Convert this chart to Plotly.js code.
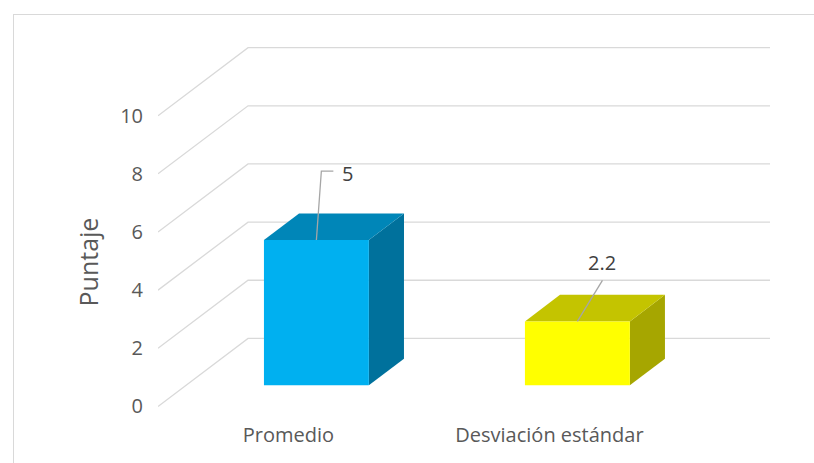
<!DOCTYPE html>
<html>
<head>
<meta charset="utf-8">
<script src="https://cdn.plot.ly/plotly-3.0.1.min.js"></script>
<style>
  html, body { margin: 0; padding: 0; background: #ffffff; }
  #wrap { position: relative; width: 814px; height: 463px; overflow: hidden; }
  #chart { position: absolute; left: 0; top: 0; width: 814px; height: 463px; }
  #frame { position: absolute; left: 13px; top: 14px; width: 820px; height: 470px;
           border-left: 1px solid #d9d9d9; border-top: 1px solid #d9d9d9; pointer-events: none; }
</style>
</head>
<body>
<div id="wrap">
  <div id="chart"></div>
  <div id="frame"></div>
</div>
<script>
// ---- data ----
const categories = ["Promedio", "Desviación estándar"];
const values = [5, 2.2];
const valueLabels = ["5", "2.2"];
const yTickVals = [0, 2, 4, 6, 8, 10];
const yTickText = ["0", "2", "4", "6", "8", "10"];
const yTitle = "Puntaje";

// ---- 3D styling (geometry in axis units) ----
const depthX = 0.345;      // x shift of full floor depth
const depthY = 2.34;       // y shift of full floor depth
const fFront = 0.31;       // bar front depth fraction
const fBack = 0.70;        // bar back depth fraction
const barW = 0.402;        // bar width
const frontColors = ["#00B0F0", "#FFFF00"];
const topColors = ["#0086B8", "#C4C400"];
const sideColors = ["#00719C", "#A6A600"];
const gridColor = "#d9d9d9";
const xMin = -0.5, xMax = categories.length - 0.5;

const traces = [];

// gridlines: diagonal side wall + back wall
const gx = [], gy = [];
yTickVals.forEach(t => {
  gx.push(xMin, xMin + depthX, xMax + depthX, null);
  gy.push(t, t + depthY, t + depthY, null);
});
traces.push({type: "scatter", mode: "lines", x: gx, y: gy, hoverinfo: "skip",
  line: {color: gridColor, width: 1.3}, showlegend: false});

const idx = categories.map((c, i) => i);

// bar faces (side, top, front) computed from the values
idx.forEach(i => {
  const v = values[i];
  const xl = i - barW / 2, xr = i + barW / 2;
  const fx = fFront * depthX, fy = fFront * depthY;
  const bx = fBack * depthX, by = fBack * depthY;
  // side face
  traces.push({type: "scatter", mode: "lines", fill: "toself",
    x: [xr + fx, xr + bx, xr + bx, xr + fx, xr + fx],
    y: [fy, by, v + by, v + fy, fy],
    fillcolor: sideColors[i], line: {width: 0}, hoverinfo: "skip", showlegend: false});
  // top face
  traces.push({type: "scatter", mode: "lines", fill: "toself",
    x: [xl + fx, xr + fx, xr + bx, xl + bx, xl + fx],
    y: [v + fy, v + fy, v + by, v + by, v + fy],
    fillcolor: topColors[i], line: {width: 0}, hoverinfo: "skip", showlegend: false});
  // front face
  traces.push({type: "scatter", mode: "lines", fill: "toself",
    x: [xl + fx, xr + fx, xr + fx, xl + fx, xl + fx],
    y: [fy, fy, v + fy, v + fy, fy],
    fillcolor: frontColors[i], line: {width: 0}, hoverinfo: "skip", showlegend: false,
    name: categories[i]});
});

// leader lines for data labels
const leaderPts = [
  [[0, 0], [0.019, 2.37], [0.065, 2.37]],
  [[0, 0], [0.096, 1.41]]
];
const labelOff = [[0.119, 2.27], [0.096, 2.03]];
const lx = [], ly = [];
idx.forEach(i => {
  const cx = i + fFront * depthX, cy = values[i] + fFront * depthY;
  leaderPts[i].forEach(p => { lx.push(cx + p[0]); ly.push(cy + p[1]); });
  lx.push(null); ly.push(null);
});
traces.push({type: "scatter", mode: "lines", x: lx, y: ly, hoverinfo: "skip",
  line: {color: "#a6a6a6", width: 1.3}, showlegend: false});

const annotations = idx.map(i => ({
  x: i + fFront * depthX + labelOff[i][0],
  y: values[i] + fFront * depthY + labelOff[i][1],
  xref: "x", yref: "y", text: valueLabels[i], showarrow: false,
  xanchor: "center", yanchor: "middle",
  font: {family: "Open Sans", size: 20, color: "#404040"}
}));
annotations.push({
  x: -0.114, y: 0.42, xref: "paper", yref: "paper", text: yTitle, textangle: -90,
  showarrow: false, xanchor: "center", yanchor: "middle",
  font: {family: "Open Sans", size: 25, color: "#595959"}
});

const layout = {
  width: 814, height: 463,
  margin: {l: 158, r: 44, t: 43, b: 42},
  paper_bgcolor: "#ffffff", plot_bgcolor: "rgba(0,0,0,0)",
  showlegend: false,
  font: {family: "Open Sans", color: "#595959", size: 20},
  xaxis: {range: [xMin, xMax + depthX], tickmode: "array", tickvals: idx, ticktext: categories,
    showgrid: false, zeroline: false, showline: false, ticks: "",
    tickfont: {family: "Open Sans", size: 20, color: "#595959"}},
  yaxis: {range: [-0.5, 12.5], tickmode: "array", tickvals: yTickVals, ticktext: yTickText,
    showgrid: false, zeroline: false, showline: false, ticks: "", ticklabelstandoff: 14,
    tickfont: {family: "Open Sans", size: 20, color: "#595959"}},
  annotations: annotations
};

Plotly.newPlot("chart", traces, layout, {staticPlot: true, displayModeBar: false});
</script>
</body>
</html>
